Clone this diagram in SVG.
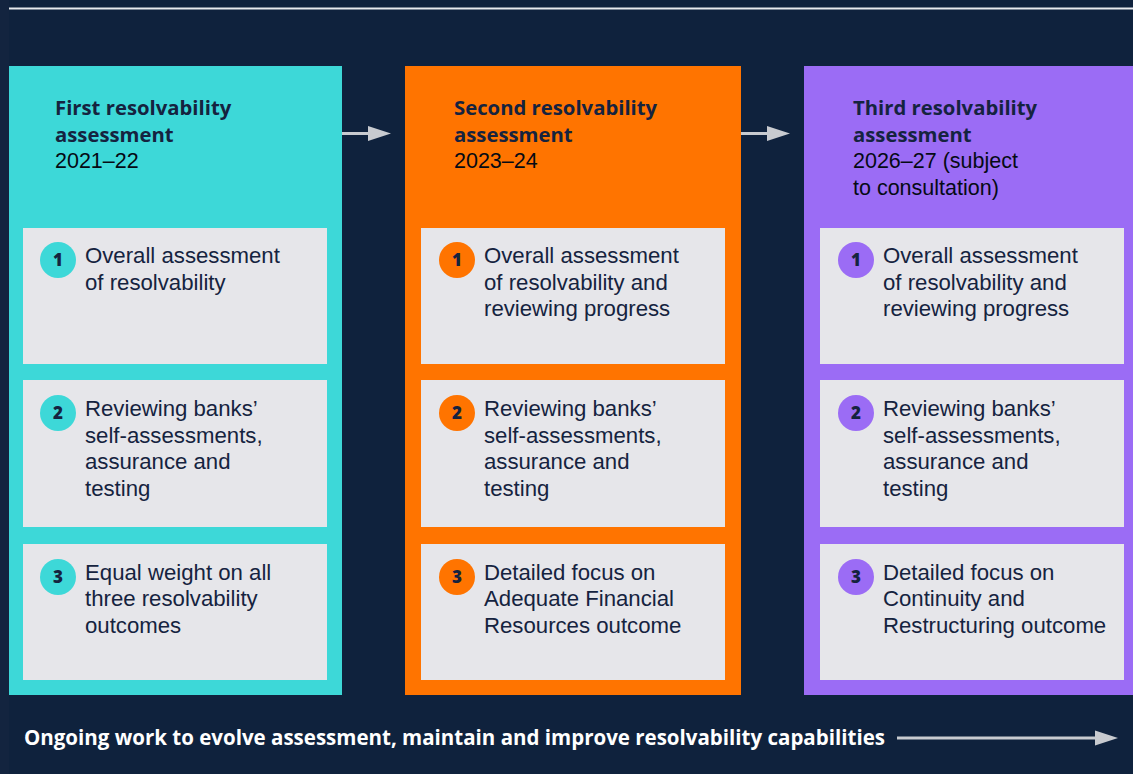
<svg xmlns="http://www.w3.org/2000/svg" width="1133" height="774" viewBox="0 0 1133 774">
  <style>
    .title { font-family: "Open Sans", "Noto Sans", sans-serif; font-weight: 700; font-size: 20.3px; fill: #15233f; }
    .year { font-family: "Liberation Sans", Arial, sans-serif; font-size: 21.5px; fill: #050a14; }
    .body { font-family: "Liberation Sans", Arial, sans-serif; font-size: 22.2px; fill: #15233f; }
    .num { font-family: "Open Sans", "Noto Sans", sans-serif; font-weight: 800; font-size: 17px; fill: #15233f; text-anchor: middle; }
    .card { fill: #e6e6ea; }
    .conn { stroke: #c8cbd0; stroke-width: 3; fill: none; }
    .head { fill: #c8cbd0; }
    .foot { font-family: "Open Sans", "Noto Sans", sans-serif; font-weight: 700; font-size: 20.5px; fill: #ffffff; }
  </style>

  <!-- background -->
  <rect x="0" y="0" width="1133" height="774" fill="#0f223d"/>
  <rect x="0" y="0" width="9" height="774" fill="#13243f"/>
  <line x1="9" y1="8.5" x2="1133" y2="8.5" stroke="#e8eaee" stroke-width="2"/>

  <!-- first assessment -->
  <g id="first">
    <rect x="9" y="66" width="333" height="629" fill="#3dd8d8"/>
    <text class="title" x="55" y="115">First resolvability</text>
    <text class="title" x="55" y="142">assessment</text>
    <text class="year" x="55" y="168">2021–22</text>
    <g id="first-1">
      <rect class="card" x="23" y="228" width="304" height="136"/>
      <circle cx="58" cy="260" r="18" fill="#3dd8d8"/>
      <text class="num" x="58" y="266">1</text>
      <text class="body" x="85" y="263">Overall assessment</text>
      <text class="body" x="85" y="290">of resolvability</text>
    </g>
    <g id="first-2">
      <rect class="card" x="23" y="380" width="304" height="147"/>
      <circle cx="58" cy="413" r="18" fill="#3dd8d8"/>
      <text class="num" x="58" y="419">2</text>
      <text class="body" x="85" y="416">Reviewing banks’</text>
      <text class="body" x="85" y="443">self-assessments,</text>
      <text class="body" x="85" y="469">assurance and</text>
      <text class="body" x="85" y="496">testing</text>
    </g>
    <g id="first-3">
      <rect class="card" x="23" y="544" width="304" height="136"/>
      <circle cx="58" cy="577" r="18" fill="#3dd8d8"/>
      <text class="num" x="58" y="583">3</text>
      <text class="body" x="85" y="580">Equal weight on all</text>
      <text class="body" x="85" y="606">three resolvability</text>
      <text class="body" x="85" y="633">outcomes</text>
    </g>
  </g>

  <!-- second assessment -->
  <g id="second">
    <rect x="405" y="66" width="336" height="629" fill="#ff7400"/>
    <text class="title" x="454" y="115">Second resolvability</text>
    <text class="title" x="454" y="142">assessment</text>
    <text class="year" x="454" y="168">2023–24</text>
    <g id="second-1">
      <rect class="card" x="421" y="228" width="304" height="136"/>
      <circle cx="457" cy="260" r="18" fill="#ff7400"/>
      <text class="num" x="457" y="266">1</text>
      <text class="body" x="484" y="263">Overall assessment</text>
      <text class="body" x="484" y="290">of resolvability and</text>
      <text class="body" x="484" y="316">reviewing progress</text>
    </g>
    <g id="second-2">
      <rect class="card" x="421" y="380" width="304" height="147"/>
      <circle cx="457" cy="413" r="18" fill="#ff7400"/>
      <text class="num" x="457" y="419">2</text>
      <text class="body" x="484" y="416">Reviewing banks’</text>
      <text class="body" x="484" y="443">self-assessments,</text>
      <text class="body" x="484" y="469">assurance and</text>
      <text class="body" x="484" y="496">testing</text>
    </g>
    <g id="second-3">
      <rect class="card" x="421" y="544" width="304" height="136"/>
      <circle cx="457" cy="577" r="18" fill="#ff7400"/>
      <text class="num" x="457" y="583">3</text>
      <text class="body" x="484" y="580">Detailed focus on</text>
      <text class="body" x="484" y="606">Adequate Financial</text>
      <text class="body" x="484" y="633">Resources outcome</text>
    </g>
  </g>

  <!-- third assessment -->
  <g id="third">
    <rect x="804" y="66" width="329" height="629" fill="#9b6cf5"/>
    <text class="title" x="853" y="115">Third resolvability</text>
    <text class="title" x="853" y="142">assessment</text>
    <text class="year" x="853" y="168">2026–27 (subject</text>
    <text class="year" x="853" y="195">to consultation)</text>
    <g id="third-1">
      <rect class="card" x="820" y="228" width="304" height="136"/>
      <circle cx="856" cy="260" r="18" fill="#9b6cf5"/>
      <text class="num" x="856" y="266">1</text>
      <text class="body" x="883" y="263">Overall assessment</text>
      <text class="body" x="883" y="290">of resolvability and</text>
      <text class="body" x="883" y="316">reviewing progress</text>
    </g>
    <g id="third-2">
      <rect class="card" x="820" y="380" width="304" height="147"/>
      <circle cx="856" cy="413" r="18" fill="#9b6cf5"/>
      <text class="num" x="856" y="419">2</text>
      <text class="body" x="883" y="416">Reviewing banks’</text>
      <text class="body" x="883" y="443">self-assessments,</text>
      <text class="body" x="883" y="469">assurance and</text>
      <text class="body" x="883" y="496">testing</text>
    </g>
    <g id="third-3">
      <rect class="card" x="820" y="544" width="304" height="136"/>
      <circle cx="856" cy="577" r="18" fill="#9b6cf5"/>
      <text class="num" x="856" y="583">3</text>
      <text class="body" x="883" y="580">Detailed focus on</text>
      <text class="body" x="883" y="606">Continuity and</text>
      <text class="body" x="883" y="633">Restructuring outcome</text>
    </g>
  </g>

  <!-- connectors -->
  <g id="connectors">
    <line class="conn" x1="342" y1="133.5" x2="370" y2="133.5"/>
    <polygon class="head" points="368,126 391,133.5 368,141"/>
    <line class="conn" x1="741" y1="133.5" x2="769" y2="133.5"/>
    <polygon class="head" points="767,126 790,133.5 767,141"/>
    <line class="conn" x1="897" y1="738" x2="1097" y2="738"/>
    <polygon class="head" points="1095,730.5 1118,738 1095,745.5"/>
  </g>

  <text class="foot" x="24" y="745">Ongoing work to evolve assessment, maintain and improve resolvability capabilities</text>
</svg>
